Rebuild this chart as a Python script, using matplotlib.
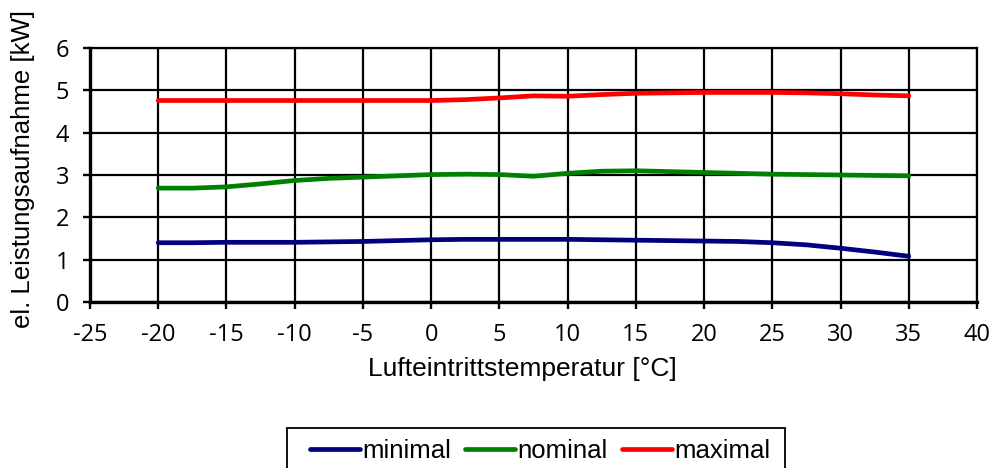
import matplotlib
matplotlib.use("Agg")
import matplotlib.pyplot as plt
from matplotlib.patches import Rectangle

plt.rcParams["axes.unicode_minus"] = False

temps = [-20, -17.5, -15, -12.5, -10, -7.5, -5, -2.5, 0, 2.5, 5, 7.5, 10, 12.5, 15, 17.5, 20, 22.5, 25, 27.5, 30, 32.5, 35]
minimal = [1.40, 1.40, 1.41, 1.41, 1.41, 1.42, 1.43, 1.45, 1.47, 1.48, 1.48, 1.48, 1.48, 1.47, 1.46, 1.45, 1.44, 1.43, 1.40, 1.35, 1.27, 1.18, 1.08]
nominal = [2.69, 2.69, 2.72, 2.79, 2.87, 2.92, 2.95, 2.98, 3.01, 3.02, 3.01, 2.97, 3.04, 3.09, 3.10, 3.08, 3.06, 3.04, 3.02, 3.01, 3.00, 2.99, 2.98]
maximal = [4.76, 4.76, 4.76, 4.76, 4.76, 4.76, 4.76, 4.76, 4.76, 4.78, 4.82, 4.87, 4.86, 4.90, 4.93, 4.94, 4.95, 4.95, 4.95, 4.94, 4.92, 4.89, 4.87]

series = [("minimal", minimal, "#000080"), ("nominal", nominal, "#008000"), ("maximal", maximal, "#ff0000")]

W, H = 994, 468
fig = plt.figure(figsize=(W/100, H/100), dpi=100)
ax = fig.add_axes([90/W, 1 - 302/H, (977-90)/W, (302-48)/H])

for name, vals, col in series:
    ax.plot(temps, vals, color=col, lw=3.4, label=name, solid_capstyle="round")

ax.set_xlim(-25, 40)
ax.set_ylim(0, 6)
ax.set_xticks(range(-25, 41, 5))
ax.set_yticks(range(0, 7))
ax.grid(True, color="black", lw=1.6)
ax.set_axisbelow(True)
for s in ["top", "right"]:
    ax.spines[s].set_linewidth(1.6)
for s in ["left", "bottom"]:
    ax.spines[s].set_linewidth(2.4)
ax.tick_params(axis="both", direction="out", length=5, width=1.7, labelsize=17, pad=10)
for lbl in ax.get_xticklabels() + ax.get_yticklabels():
    lbl.set_fontfamily("Open Sans")

ax.set_xlabel("Lufteintrittstemperatur [°C]", fontsize=19, family="Liberation Sans")
ax.set_ylabel("el. Leistungsaufnahme [kW]", fontsize=18.5, family="Liberation Sans")
ax.xaxis.set_label_coords(0.488, -0.215)
ax.yaxis.set_label_coords(-0.062, 0.525)

# legend box
fig.patches.append(Rectangle((287/W, -0.05), (785-287)/W, 0.05 + 1 - 428/H,
                             transform=fig.transFigure, facecolor="none",
                             edgecolor="black", lw=1.3))
leg = fig.legend(loc="upper left", bbox_to_anchor=(310/W, 1 - 439/H), ncol=3,
                 frameon=False,
                 prop={"family": "Liberation Sans", "size": 18.5},
                 handlelength=1.95, handletextpad=0.08, columnspacing=0.55,
                 borderpad=0.0, borderaxespad=0)

fig.savefig("out.png", dpi=100)
